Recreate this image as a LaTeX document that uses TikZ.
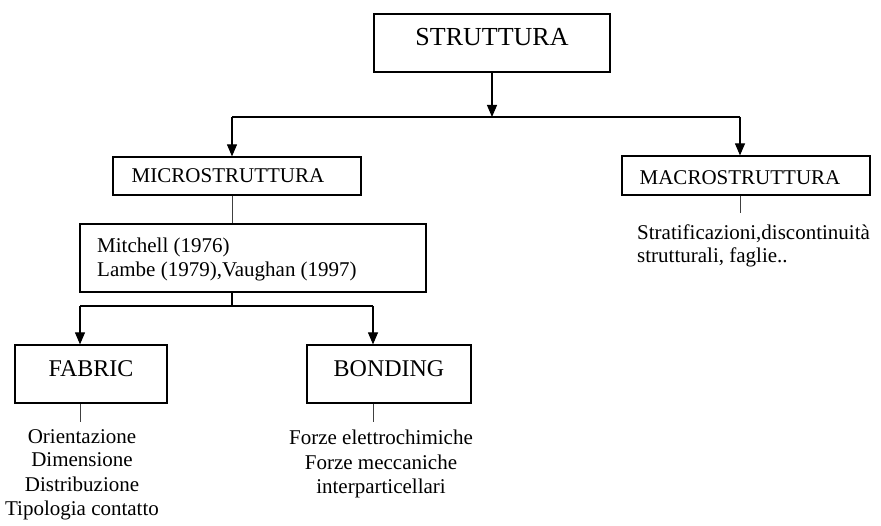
\documentclass[tikz,border=0pt]{standalone}
\usepackage{fontspec}
\setmainfont{Liberation Serif}
\usetikzlibrary{arrows.meta}
\begin{document}
\begin{tikzpicture}[x=1pt,y=-1pt,
  box/.style={draw, line width=1.2pt, inner sep=0pt},
  conn/.style={line width=1.1pt},
  stem/.style={line width=0.8pt, draw=black!75},
  arr/.style={-{Triangle[width=10pt,length=12pt]}, line width=1.1pt},
  lbl/.style={inner sep=0pt, anchor=base},
  lblw/.style={inner sep=0pt, anchor=base west},
  big/.style={font=\fontsize{26}{28}\selectfont},
  mid/.style={font=\fontsize{24}{26}\selectfont},
  txt/.style={font=\fontsize{21}{23}\selectfont},
]
\useasboundingbox[fill=white] (0,0) rectangle (881,526);

% boxes
\node[box, minimum width=236pt, minimum height=58pt] (strutt) at (492,43) {};
\node[box, minimum width=248pt, minimum height=38pt] (micro) at (237,176) {};
\node[box, minimum width=248pt, minimum height=39pt] (macro) at (746,175.5) {};
\node[box, minimum width=346pt, minimum height=68pt] (mitch) at (253,258) {};
\node[box, minimum width=152pt, minimum height=58pt] (fabric) at (91,374) {};
\node[box, minimum width=164pt, minimum height=58pt] (bonding) at (389,374) {};

% labels inside boxes
\node[lbl, big] (tS) at (492,46) {STRUTTURA};
\node[lbl, txt] (tMi) at (228,183) {MICROSTRUTTURA};
\node[lbl, txt] (tMa) at (740,185) {MACROSTRUTTURA};
\node[lblw, txt] (tM1) at (97,253) {Mitchell (1976)};
\node[lblw, txt] (tM2) at (97,277) {Lambe (1979),Vaughan (1997)};
\node[lbl, mid] (tF) at (91,377) {FABRIC};
\node[lbl, mid] (tB) at (389,377) {BONDING};

% free texts
\node[lblw, txt] (s1) at (637,240) {Stratificazioni,discontinuità};
\node[lblw, txt] (s2) at (637,263) {strutturali, faglie..};
\node[lbl, txt] (f1) at (82,443) {Orientazione};
\node[lbl, txt] (f2) at (82,467) {Dimensione};
\node[lbl, txt] (f3) at (82,491) {Distribuzione};
\node[lbl, txt] (f4) at (82,515) {Tipologia contatto};
\node[lbl, txt] (b1) at (381,445) {Forze elettrochimiche};
\node[lbl, txt] (b2) at (381,469) {Forze meccaniche};
\node[lbl, txt] (b3) at (381,493) {interparticellari};

% connector coordinates
\coordinate (hc) at (492,117);
\coordinate (hl) at (232,117);
\coordinate (hr) at (740,117);
\coordinate (bl) at (80,306);
\coordinate (br) at (373,306);
\coordinate (me) at (740,213);
\coordinate (fe) at (80,422);
\coordinate (be) at (373,422);

% connectors
\draw[arr] (strutt.south -| hc) -- (hc);
\draw[conn] (hl) -- (hr);
\draw[arr] (hl) -- (hl |- micro.north);
\draw[arr] (hr) -- (hr |- macro.north);
\draw[stem] (micro.south -| hl) -- (mitch.north -| hl);
\draw[stem] (macro.south -| me) -- (me);
\draw[conn] (mitch.south -| hl) -- (hl |- bl);
\draw[conn] (bl) -- (br);
\draw[arr] (bl) -- (bl |- fabric.north);
\draw[arr] (br) -- (br |- bonding.north);
\draw[stem] (fabric.south -| fe) -- (fe);
\draw[stem] (bonding.south -| be) -- (be);
\end{tikzpicture}
\end{document}
